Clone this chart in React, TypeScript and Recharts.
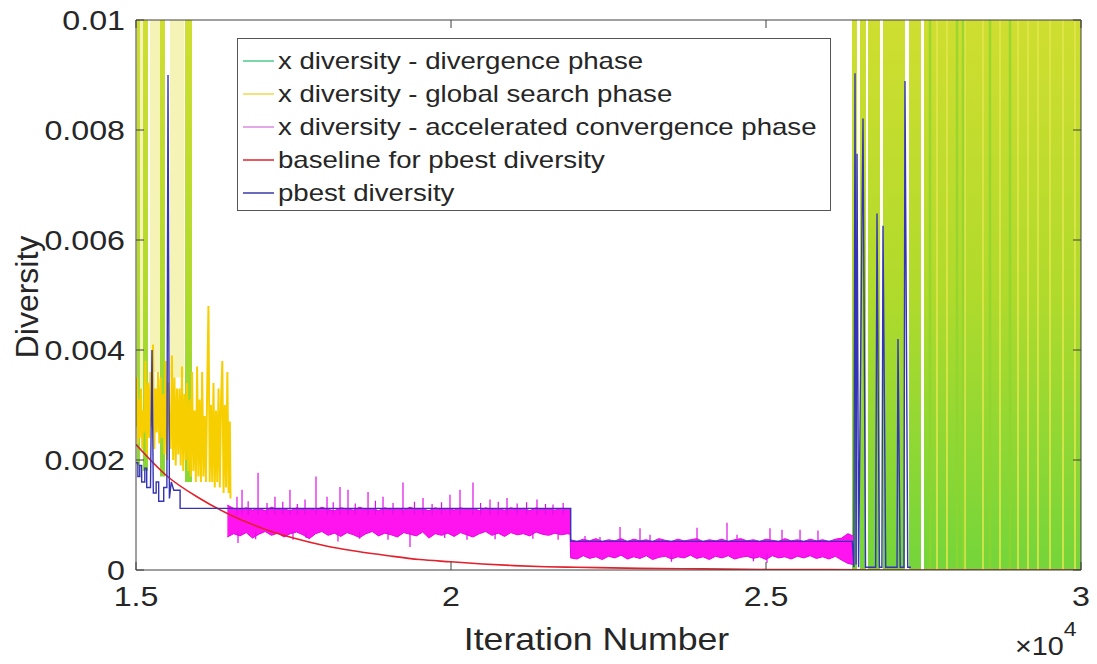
import React from 'react'
import { ComposedChart, Area, Line, XAxis, YAxis, Legend, Label } from 'recharts'

// axis ticks
const xTicks = [15000, 20000, 25000, 30000]
const xTickLabels = ['1.5', '2', '2.5', '3']
const yTicks = [0, 0.002, 0.004, 0.006, 0.008, 0.01]
const yTickLabels = ['0', '0.002', '0.004', '0.006', '0.008', '0.01']

const legendNames = [
  'x diversity - divergence phase',
  'x diversity - global search phase',
  'x diversity - accelerated convergence phase',
  'baseline for pbest diversity',
  'pbest diversity',
]
const legendColors = ['#4fc98d', '#f0d84a', '#d98be0', '#e3202c', '#3a3aa8']

// divergence phase: bands where the diversity shoots past the top of the axis
const divergenceStart = [15016, 15111, 15381, 15778, 26365, 26492, 26619, 26857, 27270, 27508]
const divergenceEnd = [15063, 15190, 15460, 15889, 26444, 26587, 26810, 27206, 27460, 30000]
const divergenceLow = [0.0019, 0.0018, 0.0017, 0.0016, 0, 0, 0, 0, 0, 0]
const divergenceHigh = [0.012, 0.012, 0.012, 0.012, 0.012, 0.012, 0.012, 0.012, 0.012, 0.012]
// lighter / greener stripes inside the dense divergence block
const lightStripeX = [27714, 27873, 28159, 28444, 28714, 29000, 29159, 29317, 29508, 29714, 29905]
const darkStripeX = [27603, 28032, 28127, 28555, 28873]

// global search phase: pale high-frequency bands between the divergence bursts
const paleStart = [15000, 15063, 15222, 15540]
const paleEnd = [15016, 15111, 15381, 15762]
const paleLow = [0.0034, 0.0033, 0.0036, 0.0035]
const paleHigh = [0.012, 0.012, 0.012, 0.012]

// global search phase [iteration, diversity]
const globalSearch: [number, number][] = [
  [15000, 0.0026], [15015, 0.0035], [15030, 0.0023], [15045, 0.0031], [15060, 0.0024],
  [15080, 0.0033], [15100, 0.0022], [15115, 0.0029], [15130, 0.0025], [15150, 0.0038],
  [15170, 0.0021], [15190, 0.0034], [15210, 0.0024], [15230, 0.0036], [15250, 0.0026],
  [15270, 0.0041], [15290, 0.0022], [15310, 0.0033], [15330, 0.0025], [15350, 0.0036],
  [15370, 0.0023], [15390, 0.0035], [15410, 0.0024], [15430, 0.0032], [15450, 0.0021],
  [15470, 0.0038], [15490, 0.002], [15510, 0.0034], [15530, 0.0027], [15550, 0.0022],
  [15570, 0.0039], [15590, 0.002], [15610, 0.0035], [15630, 0.0019], [15650, 0.0033],
  [15670, 0.0021], [15690, 0.0033], [15710, 0.0019], [15730, 0.0037], [15750, 0.0018],
  [15770, 0.0032], [15790, 0.002], [15810, 0.0034], [15830, 0.0018], [15850, 0.0031],
  [15870, 0.0017], [15890, 0.0036], [15910, 0.0018], [15930, 0.0029], [15950, 0.0016],
  [15970, 0.0037], [15990, 0.0017], [16010, 0.0031], [16030, 0.0016], [16050, 0.0036],
  [16070, 0.0017], [16090, 0.0028], [16110, 0.0016], [16130, 0.0033], [16150, 0.0048],
  [16170, 0.0016], [16190, 0.003], [16210, 0.0016], [16230, 0.0034], [16250, 0.0015],
  [16270, 0.0029], [16290, 0.0016], [16310, 0.0033], [16330, 0.0015], [16350, 0.0031],
  [16370, 0.0038], [16390, 0.0014], [16410, 0.003], [16430, 0.0015], [16450, 0.0036],
  [16470, 0.0014], [16490, 0.0027], [16500, 0.0013],
]

// accelerated convergence phase band [iteration, low, high]
const accelBand: [number, number, number][] = [
  [16450, 0.0006, 0.00118], [16550, 0.00066, 0.00112], [16650, 0.00062, 0.0011], [16750, 0.00068, 0.00113],
  [16850, 0.00058, 0.00109], [16950, 0.00065, 0.00112], [17050, 0.0007, 0.00108], [17150, 0.00063, 0.00114],
  [17250, 0.00067, 0.0011], [17350, 0.0006, 0.00111], [17450, 0.00066, 0.00108], [17550, 0.00069, 0.00113],
  [17650, 0.00064, 0.0011], [17750, 0.00057, 0.00112], [17850, 0.00066, 0.00109], [17950, 0.0007, 0.00114],
  [18050, 0.00063, 0.0011], [18150, 0.00067, 0.00108], [18250, 0.00061, 0.00113], [18350, 0.00068, 0.00111],
  [18450, 0.00064, 0.00109], [18550, 0.00059, 0.00114], [18650, 0.00066, 0.0011], [18750, 0.0007, 0.00112],
  [18850, 0.00062, 0.00108], [18950, 0.00067, 0.00113], [19050, 0.00064, 0.0011], [19150, 0.0006, 0.00112],
  [19250, 0.00068, 0.00109], [19350, 0.00065, 0.00114], [19450, 0.00062, 0.0011], [19550, 0.00069, 0.00111],
  [19650, 0.00058, 0.00108], [19750, 0.00066, 0.00113], [19850, 0.00063, 0.0011], [19950, 0.00067, 0.00112],
  [20050, 0.00061, 0.00109], [20150, 0.00068, 0.00113], [20250, 0.00064, 0.0011], [20350, 0.0006, 0.00112],
  [20450, 0.00066, 0.00108], [20550, 0.0007, 0.00113], [20650, 0.00063, 0.0011], [20750, 0.00067, 0.00111],
  [20850, 0.00061, 0.00109], [20950, 0.00068, 0.00113], [21050, 0.00064, 0.0011], [21150, 0.00066, 0.00112],
  [21250, 0.00062, 0.00108], [21350, 0.00069, 0.00113], [21450, 0.00065, 0.0011], [21550, 0.00063, 0.00111],
  [21650, 0.00067, 0.00109], [21750, 0.00064, 0.00112], [21850, 0.00066, 0.0011], [21890, 0.00065, 0.00111],
  [21900, 0.00022, 0.00055], [22000, 0.0002, 0.00052], [22100, 0.00026, 0.00056], [22200, 0.00021, 0.00053],
  [22300, 0.00024, 0.00057], [22400, 0.00019, 0.00052], [22500, 0.00025, 0.00055], [22600, 0.00022, 0.00053],
  [22700, 0.00027, 0.00057], [22800, 0.0002, 0.00052], [22900, 0.00024, 0.00056], [23000, 0.00021, 0.00053],
  [23100, 0.00026, 0.00055], [23200, 0.00019, 0.00052], [23300, 0.00023, 0.00057], [23400, 0.00025, 0.00054],
  [23500, 0.0002, 0.00052], [23600, 0.00024, 0.00056], [23700, 0.00022, 0.00053], [23800, 0.00027, 0.00055],
  [23900, 0.00021, 0.00057], [24000, 0.00024, 0.00052], [24100, 0.00019, 0.00055], [24200, 0.00025, 0.00053],
  [24300, 0.00022, 0.00056], [24400, 0.00026, 0.00052], [24500, 0.0002, 0.00055], [24600, 0.00023, 0.00057],
  [24700, 0.00025, 0.00053], [24800, 0.00021, 0.00055], [24900, 0.00024, 0.00052], [25000, 0.00019, 0.00056],
  [25100, 0.00026, 0.00054], [25200, 0.00022, 0.00052], [25300, 0.00024, 0.00057], [25400, 0.0002, 0.00053],
  [25500, 0.00025, 0.00055], [25600, 0.00022, 0.00052], [25700, 0.00026, 0.00056], [25800, 0.00021, 0.00053],
  [25900, 0.00024, 0.00055], [26000, 0.0002, 0.00052], [26100, 0.00025, 0.00056], [26200, 0.00018, 0.00058],
  [26300, 0.00012, 0.00066], [26380, 0.0001, 0.00062],
]

// thin spikes out of the accelerated band [iteration, from, to]
const accelSpikes: [number, number, number][] = [
  [16603, 0.001, 0.00133], [16683, 0.001, 0.00146], [16780, 0.001, 0.00125], [16937, 0.001, 0.00177],
  [17080, 0.001, 0.00122], [17206, 0.001, 0.00133], [17330, 0.001, 0.00124], [17444, 0.001, 0.00146],
  [17560, 0.001, 0.0012], [17683, 0.001, 0.00128], [17857, 0.001, 0.0017], [18032, 0.001, 0.00133],
  [18130, 0.001, 0.00123], [18238, 0.001, 0.00151], [18365, 0.001, 0.00146], [18480, 0.001, 0.00121],
  [18683, 0.001, 0.00142], [18800, 0.001, 0.00126], [18921, 0.001, 0.00133], [19080, 0.001, 0.00122],
  [19238, 0.001, 0.00159], [19420, 0.001, 0.00124], [19556, 0.001, 0.00131], [19700, 0.001, 0.0012],
  [19850, 0.001, 0.00123], [19984, 0.001, 0.00137], [20143, 0.001, 0.00146], [20349, 0.001, 0.00159],
  [20470, 0.001, 0.00122], [20619, 0.001, 0.00128], [20750, 0.001, 0.00124], [20889, 0.001, 0.00131],
  [21050, 0.001, 0.00121], [21200, 0.001, 0.00123], [21365, 0.001, 0.00128], [21500, 0.001, 0.0012],
  [21619, 0.001, 0.00119], [21780, 0.001, 0.00122],
  [16619, 0.0007, 0.00049], [16900, 0.0007, 0.00056], [17492, 0.0007, 0.00055], [17700, 0.0007, 0.00058],
  [18206, 0.0007, 0.00052], [18550, 0.0007, 0.00057], [19000, 0.0007, 0.00055], [19349, 0.0007, 0.00042],
  [19900, 0.0007, 0.00058], [20254, 0.0007, 0.00055], [20700, 0.0007, 0.00056], [21300, 0.0007, 0.00057],
  [21700, 0.0007, 0.00055],
  [22127, 0.0005, 0.00062], [22365, 0.0005, 0.0006], [22683, 0.0005, 0.00078], [23000, 0.0005, 0.00076],
  [23159, 0.0005, 0.00064], [23905, 0.0005, 0.00077], [24381, 0.0005, 0.00086], [24540, 0.0005, 0.00064],
  [25063, 0.0005, 0.00076], [25254, 0.0005, 0.00073], [25540, 0.0005, 0.00073], [25825, 0.0005, 0.00072],
  [23500, 0.0003, 0.00015], [24800, 0.0003, 0.00016], [25016, 0.0003, 0.00013],
]

// baseline for pbest diversity
const baselineX = [15000, 15500, 16000, 16500, 17000, 17500, 18000, 18500, 19000, 19500, 20000, 20500,
  21000, 21500, 22000, 23000, 24000, 25000, 26000, 27000, 28000, 29000, 30000]
const baselineY = [0.00228, 0.0017, 0.00131, 0.001, 0.00076, 0.00058, 0.00044, 0.00034, 0.00026, 0.00019,
  0.00015, 0.00011, 0.00008, 0.00006, 0.00005, 0.00003, 0.00002, 0.00001, 0.00001, 0, 0, 0, 0]

// pbest diversity [iteration, diversity]
const pbest: [number, number][] = [
  [15000, 0.00195], [15030, 0.00195], [15030, 0.0017], [15060, 0.0017], [15060, 0.0019], [15090, 0.0019],
  [15090, 0.0016], [15140, 0.0016], [15140, 0.00185], [15170, 0.00185], [15170, 0.0015], [15230, 0.0015],
  [15254, 0.004], [15275, 0.0014], [15320, 0.0014], [15320, 0.0016], [15360, 0.0016], [15360, 0.00125],
  [15440, 0.00125], [15440, 0.0015], [15490, 0.0015], [15508, 0.009], [15530, 0.0013], [15560, 0.0016],
  [15600, 0.00145], [15700, 0.00145], [15700, 0.00112], [21900, 0.00112], [21900, 0.00052], [26370, 0.00052],
  [26395, 0.00005], [26413, 0.00903], [26430, 0.0001], [26445, 0.00757], [26470, 0.00005], [26540, 0.00821],
  [26580, 0.00005], [26740, 0.00005], [26762, 0.00648], [26800, 0.00005], [26840, 0.00005], [26857, 0.00626],
  [26900, 0.00005], [27080, 0.00005], [27095, 0.0042], [27130, 0.00005], [27190, 0.00005], [27206, 0.00889],
  [27250, 0.00005], [27300, 0.00005],
]

const bandData = (starts: number[], ends: number[], lows: number[], highs: number[]) =>
  starts.flatMap((s, i) => [
    { x: s, band: [lows[i], lows[i]] },
    { x: s, band: [lows[i], highs[i]] },
    { x: ends[i], band: [lows[i], highs[i]] },
    { x: ends[i], band: [lows[i], lows[i]] },
  ])
const divergenceData = bandData(divergenceStart, divergenceEnd, divergenceLow, divergenceHigh)
const paleData = bandData(paleStart, paleEnd, paleLow, paleHigh)
const stripeData = (xs: number[]) =>
  xs.flatMap(x => [{ x, v: 0 }, { x, v: 0.012 }, { x, v: null }])
const globalData = globalSearch.map(([x, v]) => ({ x, v }))
const accelData = accelBand.map(([x, lo, hi]) => ({ x, band: [lo, hi] }))
const spikeData = accelSpikes
  .slice()
  .sort((a, b) => a[0] - b[0])
  .flatMap(([x, from, to]) => [{ x, v: from }, { x, v: to }, { x, v: null }])
const baselineData = baselineX.map((x, i) => ({ x, v: baselineY[i] }))
const pbestData = pbest.map(([x, v]) => ({ x, v }))

const FONT = "'Liberation Sans', Arial, Helvetica, sans-serif"
const INK = '#262626'
const AXIS = '#404040'
const SX = 1.15 // the source figure is a little wider than tall

function XTick({ x, y, payload }: any) {
  return (
    <text transform={`translate(${x},${y}) scale(${SX},1)`} textAnchor="middle" dy="0.72em"
      fontSize={28} fontFamily={FONT} fill={INK}>
      {xTickLabels[xTicks.indexOf(payload.value)]}
    </text>
  )
}

function YTick({ x, y, payload }: any) {
  return (
    <text transform={`translate(${x},${y}) scale(${SX},1)`} textAnchor="end" dy="0.36em"
      fontSize={28} fontFamily={FONT} fill={INK}>
      {yTickLabels[yTicks.indexOf(payload.value)]}
    </text>
  )
}

const NoTick = () => <g />

function LegendBox() {
  return (
    <div style={{ width: 594, height: 173, boxSizing: 'border-box', border: '1px solid #555',
      background: '#fff', paddingTop: 5, paddingLeft: 5 }}>
      {legendNames.map((name, i) => (
        <div key={name} style={{ display: 'flex', alignItems: 'center', height: 33 }}>
          <svg width={31} height={4} style={{ flex: 'none' }}>
            <line x1={0} y1={2} x2={31} y2={2} stroke={legendColors[i]} strokeWidth={1.5} />
          </svg>
          <span style={{ marginLeft: 4, fontSize: 24, fontFamily: FONT, color: INK, whiteSpace: 'nowrap',
            display: 'inline-block', transform: `scaleX(${SX})`, transformOrigin: 'left center' }}>
            {name}
          </span>
        </div>
      ))}
    </div>
  )
}

function XTitle({ viewBox }: any) {
  const cx = viewBox.x + viewBox.width / 2 - 12
  return (
    <text transform={`translate(${cx},${viewBox.y + 80}) scale(${SX},1)`} textAnchor="middle"
      fontSize={31} fontFamily={FONT} fill={INK}>Iteration Number</text>
  )
}

function XExponent({ viewBox }: any) {
  const left = viewBox.x + viewBox.width - 66
  return (
    <text transform={`translate(${left},${viewBox.y + 85}) scale(${SX},1)`} fontSize={25}
      fontFamily={FONT} fill={INK}>
      ×10<tspan dy={-19} fontSize={20}>4</tspan>
    </text>
  )
}

function YTitle({ viewBox }: any) {
  return (
    <text transform={`translate(38,${viewBox.y + viewBox.height / 2 + 2}) rotate(-90)`} textAnchor="middle"
      fontSize={32} fontFamily={FONT} fill={INK}>Diversity</text>
  )
}

export default function App() {
  return (
    <div style={{ position: 'absolute', left: 0, top: 0, width: 1097, height: 664, background: '#fff' }}>
      <ComposedChart width={1097} height={664} margin={{ top: 19, right: 15, bottom: 0, left: 0 }}>
        <defs>
          <linearGradient id="divGrad" gradientUnits="userSpaceOnUse" x1={0} y1={20} x2={0} y2={570}>
            <stop offset="0%" stopColor="#cfde30" />
            <stop offset="50%" stopColor="#b0da2c" />
            <stop offset="100%" stopColor="#74d53a" />
          </linearGradient>
        </defs>

        <Area data={paleData} dataKey="band" type="linear" fill="#f6f3b6" fillOpacity={1} stroke="none"
          isAnimationActive={false} activeDot={false} legendType="none" />
        <Line data={globalData} dataKey="v" type="linear" stroke="#f7cf00" strokeWidth={2} dot={false}
          activeDot={false} isAnimationActive={false} name={legendNames[1]} />
        <Area data={divergenceData} dataKey="band" type="linear" fill="url(#divGrad)" fillOpacity={1}
          stroke="none" isAnimationActive={false} activeDot={false} name={legendNames[0]} />
        <Line data={stripeData(lightStripeX)} dataKey="v" type="linear" stroke="#e2e64e" strokeOpacity={0.8}
          strokeWidth={2} dot={false} activeDot={false} isAnimationActive={false} legendType="none" />
        <Line data={stripeData(darkStripeX)} dataKey="v" type="linear" stroke="#8ed42e" strokeOpacity={0.8}
          strokeWidth={2.5} dot={false} activeDot={false} isAnimationActive={false} legendType="none" />
        <Area data={accelData} dataKey="band" type="linear" fill="#ff14f0" fillOpacity={1} stroke="#e600e6"
          strokeWidth={1} isAnimationActive={false} activeDot={false} name={legendNames[2]} />
        <Line data={spikeData} dataKey="v" type="linear" stroke="#e010e8" strokeWidth={1.2} dot={false}
          activeDot={false} isAnimationActive={false} legendType="none" />
        <Line data={baselineData} dataKey="v" type="monotone" stroke="#e3202c" strokeWidth={1.6} dot={false}
          activeDot={false} isAnimationActive={false} name={legendNames[3]} />
        <Line data={pbestData} dataKey="v" type="linear" stroke="#3434b4" strokeWidth={1.4} dot={false}
          activeDot={false} isAnimationActive={false} name={legendNames[4]} />

        <XAxis type="number" dataKey="x" domain={[15000, 30000]} ticks={xTicks} interval={0}
          allowDataOverflow height={94} tick={XTick} tickSize={-8} tickMargin={24}
          axisLine={{ stroke: AXIS }} tickLine={{ stroke: AXIS }}>
          <Label content={XTitle} />
          <Label content={XExponent} />
        </XAxis>
        <XAxis xAxisId="top" orientation="top" type="number" dataKey="x" domain={[15000, 30000]} ticks={xTicks}
          interval={0} allowDataOverflow height={1} tick={NoTick} tickSize={-8}
          axisLine={{ stroke: AXIS }} tickLine={{ stroke: AXIS }} />
        <YAxis type="number" domain={[0, 0.01]} ticks={yTicks} interval={0} allowDataOverflow width={136}
          tick={YTick} tickSize={-8} tickMargin={19} axisLine={{ stroke: AXIS }} tickLine={{ stroke: AXIS }}>
          <Label content={YTitle} />
        </YAxis>
        <YAxis yAxisId="right" orientation="right" type="number" domain={[0, 0.01]} ticks={yTicks} interval={0}
          allowDataOverflow width={1} tick={NoTick} tickSize={-8}
          axisLine={{ stroke: AXIS }} tickLine={{ stroke: AXIS }} />

        <Legend layout="vertical" align="center" verticalAlign="middle" content={LegendBox}
          wrapperStyle={{ left: 237, top: 38, width: 594, height: 173 }} />
      </ComposedChart>
    </div>
  )
}
